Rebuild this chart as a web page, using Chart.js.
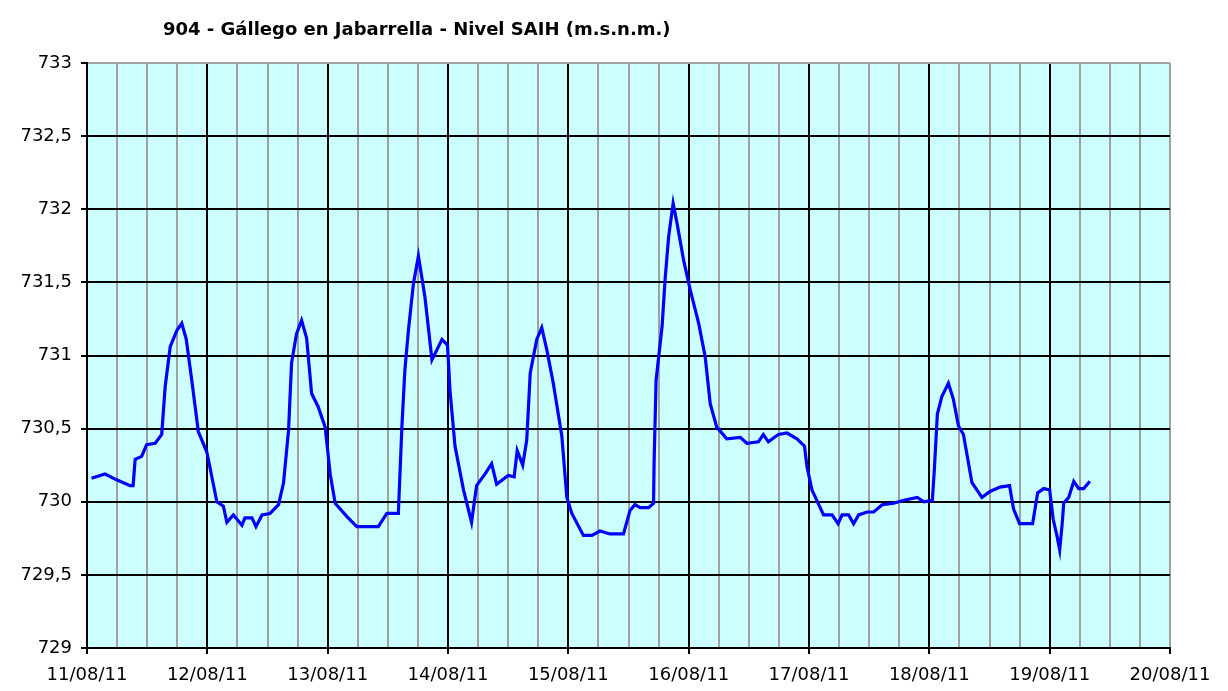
<!DOCTYPE html>
<html>
<head>
<meta charset="utf-8">
<title>904 - Gállego en Jabarrella - Nivel SAIH</title>
<script src="https://cdn.jsdelivr.net/npm/chart.js@4.4.0/dist/chart.umd.min.js"></script>
<style>
  html, body { margin: 0; padding: 0; background: #ffffff; }
  #wrap { position: relative; width: 1228px; height: 691px; }
  #title {
    position: absolute; left: 163px; top: 18px;
    font: bold 18px "DejaVu Sans", sans-serif; color: #000;
    white-space: nowrap;
  }
</style>
</head>
<body>
<div id="wrap">
  <div id="title">904 - Gállego en Jabarrella - Nivel SAIH (m.s.n.m.)</div>
  <canvas id="nivelChart" width="1228" height="691"></canvas>
</div>
<script>
// Hours counted from 11/08/11 00:00
const hours = [
  0.9, 3.6, 5.9, 8.6, 9.2, 9.6, 10.9, 11.9, 13.6, 14.9, 15.6, 16.6, 17.9, 18.9, 19.8, 20.9, 22.2, 23.9,
  25.9, 27.2, 27.9, 29.2, 30.9, 31.5, 32.9, 33.7, 34.9, 36.5, 38.2, 39.2, 40.2, 40.8, 41.8, 42.8, 43.8,
  44.8, 46.1, 47.5, 48.5, 49.5, 51.8, 53.8, 58.1, 59.8, 62.1, 62.8, 63.4, 64.1, 65.1, 66.1, 67.4, 68.8,
  70.8, 71.9, 72.4, 73.4, 75.1, 76.7, 77.7, 79.4, 80.7, 81.7, 84.0, 85.2, 85.8, 86.9, 87.7, 88.4, 89.7,
  90.7, 91.7, 93.0, 94.7, 95.7, 96.7, 99.0, 100.7, 102.3, 104.3, 107.0, 108.3, 109.3, 110.3, 112.0,
  113.0, 113.1, 113.5, 114.7, 115.3, 116.0, 116.9, 117.7, 119.0, 120.3, 122.0, 123.3, 124.3, 125.6,
  127.6, 130.3, 131.6, 133.9, 134.9, 135.9, 137.9, 139.6, 141.6, 143.1, 143.6, 144.6, 146.9, 148.6,
  149.8, 150.6, 151.9, 152.9, 153.9, 155.6, 156.9, 158.6, 160.9, 162.9, 165.6, 166.9, 168.6, 169.0,
  169.6, 170.5, 171.8, 172.8, 173.8, 174.8, 176.5, 178.5, 180.1, 182.1, 184.0, 184.8, 186.0, 188.6,
  189.6, 190.8, 192.0, 192.7, 193.5, 194.0, 194.5, 194.8, 195.8, 196.8, 197.8, 198.8, 200.0
];

// Level (m.s.n.m.)
const levels = [
  730.16, 730.19, 730.15, 730.11, 730.11, 730.29, 730.31, 730.39, 730.40, 730.46, 730.79, 731.06, 731.17, 731.22, 731.11, 730.83, 730.48, 730.34,
  730.00, 729.97, 729.86, 729.91, 729.84, 729.89, 729.89, 729.83, 729.91, 729.92, 729.98, 730.13, 730.49, 730.95, 731.15, 731.24, 731.12,
  730.74, 730.65, 730.51, 730.19, 729.99, 729.90, 729.83, 729.83, 729.92, 729.92, 730.51, 730.90, 731.17, 731.49, 731.68, 731.40, 730.97,
  731.11, 731.07, 730.76, 730.38, 730.08, 729.86, 730.11, 730.19, 730.26, 730.12, 730.18, 730.17, 730.35, 730.25, 730.42, 730.88, 731.11,
  731.19, 731.04, 730.81, 730.45, 730.03, 729.92, 729.77, 729.77, 729.80, 729.78, 729.78, 729.94, 729.98, 729.96, 729.96,
  729.99, 730.26, 730.83, 731.20, 731.52, 731.81, 732.04, 731.90, 731.65, 731.45, 731.22, 730.99, 730.67, 730.51,
  730.43, 730.44, 730.40, 730.41, 730.46, 730.41, 730.46, 730.47, 730.43, 730.38, 730.24, 730.08, 729.91, 729.91,
  729.85, 729.91, 729.91, 729.85, 729.91, 729.93, 729.93, 729.98, 729.99, 730.01, 730.03, 730.00, 730.01, 730.22,
  730.60, 730.72, 730.81, 730.70, 730.52, 730.46, 730.13, 730.03, 730.07, 730.10, 730.11, 729.95, 729.85, 729.85,
  730.06, 730.09, 730.08, 729.88, 729.76, 729.67, 729.85, 729.99, 730.03, 730.14, 730.09, 730.09, 730.14
];

// Day labels for the x axis (one every 24 h)
const dayLabels = ['11/08/11', '12/08/11', '13/08/11', '14/08/11', '15/08/11',
                   '16/08/11', '17/08/11', '18/08/11', '19/08/11', '20/08/11'];

const yMin = 729, yMax = 733, yStep = 0.5;

const points = hours.map((h, i) => ({ x: h, y: levels[i] }));

// Paint the cyan plot background
const plotBg = {
  id: 'plotBg',
  beforeDraw(chart) {
    const { ctx, chartArea: a } = chart;
    ctx.save();
    ctx.fillStyle = '#CCFFFF';
    ctx.fillRect(a.left, a.top, a.right - a.left, a.bottom - a.top);
    ctx.restore();
  }
};

const ctx = document.getElementById('nivelChart').getContext('2d');
const chart = new Chart(ctx, {
  type: 'line',
  data: {
    datasets: [{
      label: 'Nivel',
      data: points,
      borderColor: '#0000FF',
      borderWidth: 3.2,
      pointRadius: 0,
      tension: 0,
      fill: false
    }]
  },
  options: {
    responsive: false,
    animation: false,
    layout: { padding: { top: 63, right: 58, left: 0, bottom: 0 } },
    plugins: {
      legend: { display: false },
      tooltip: { enabled: false }
    },
    scales: {
      x: {
        type: 'linear',
        min: 0,
        max: 216,
        afterFit: s => { s.height = 43; },
        afterBuildTicks: s => {
          s.ticks = [];
          for (let v = 0; v <= 216; v += 6) s.ticks.push({ value: v });
        },
        ticks: {
          autoSkip: false,
          maxRotation: 0,
          padding: 11,
          color: '#000',
          font: { family: 'DejaVu Sans', size: 18 },
          callback: v => (v % 24 === 0 ? dayLabels[v / 24] : '')
        },
        grid: {
          lineWidth: 2,
          tickLength: 6,
          color: c => (c.tick && c.tick.value % 24 === 0 && c.tick.value !== 216 ? '#000000' : '#A0A0A0'),
          tickColor: c => (c.tick && c.tick.value % 24 === 0 ? '#000000' : 'rgba(0,0,0,0)')
        },
        border: { color: '#000', width: 2 }
      },
      y: {
        min: yMin,
        max: yMax,
        afterFit: s => { s.width = 87; },
        ticks: {
          stepSize: yStep,
          padding: 9,
          color: '#000',
          font: { family: 'DejaVu Sans', size: 18 },
          callback: v => String(v).replace('.', ',')
        },
        grid: {
          lineWidth: 2,
          tickLength: 6,
          color: c => (c.tick && c.tick.value === yMax ? '#A0A0A0' : '#000000'),
          tickColor: '#000000'
        },
        border: { color: '#000', width: 2 }
      }
    }
  },
  plugins: [plotBg]
});
</script>
</body>
</html>
